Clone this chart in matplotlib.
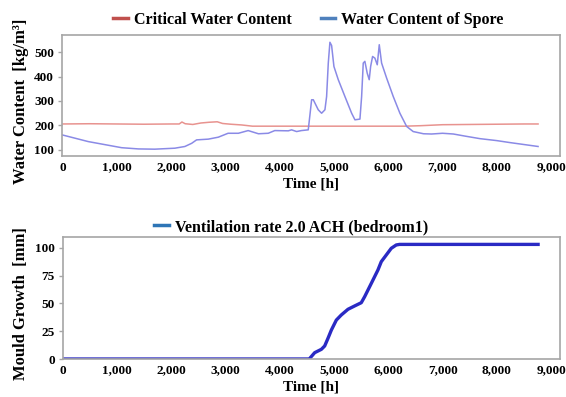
import matplotlib
matplotlib.use("Agg")
import matplotlib.pyplot as plt
from matplotlib.lines import Line2D

# ---------------- data ----------------
crit_hours = [0, 500, 1000, 1500, 2000, 2150, 2200, 2260, 2400, 2550, 2700, 2850, 2950,
              3100, 3300, 3500, 4000, 5000, 6000, 6300, 6600, 7000, 7500, 8000, 8500, 8760]
crit_values = [206, 207, 206, 205, 206, 206, 214, 207, 204, 210, 213, 215, 208,
               205, 202, 197, 197, 197, 197, 197, 199, 203, 204, 205, 206, 206]

spore_hours = [0, 475, 1090, 1400, 1700, 2070, 2255, 2380, 2470, 2685, 2870, 3050, 3240,
               3420, 3610, 3790, 3910, 4160, 4220, 4313, 4400, 4527, 4558, 4589, 4620,
               4711, 4773, 4834, 4865, 4896, 4926, 4957, 5000, 5080, 5203, 5326, 5387,
               5479, 5510, 5540, 5570, 5613, 5650, 5676, 5712, 5755, 5798, 5835, 5878,
               5970, 6093, 6215, 6339, 6460, 6650, 6800, 7000, 7200, 7400, 7690, 8000,
               8240, 8500, 8760]
spore_values = [161, 134, 109, 104, 103, 107, 114, 127, 141, 144, 152, 168, 168,
                179, 166, 168, 179, 178, 182, 175, 179, 182, 243, 305, 305,
                264, 250, 264, 318, 455, 540, 527, 441, 387, 318, 250, 223,
                226, 318, 455, 462, 414, 387, 441, 482, 475, 448, 530, 455,
                394, 318, 250, 196, 175, 166, 165, 168, 165, 157, 146, 138,
                130, 122, 114]

mould_hours = [0, 4540, 4641, 4764, 4825, 4886, 4948, 5040, 5132, 5255, 5378, 5500,
               5562, 5685, 5807, 5869, 5961, 6053, 6145, 6206, 8760]
mould_values = [0, 0, 5.7, 8.7, 11.7, 18.6, 26, 35, 39.6, 44.7, 47.7, 50.6,
                56, 68, 80, 87.5, 93.5, 99.5, 102.5, 103, 103]

x_ticks = [0, 1000, 2000, 3000, 4000, 5000, 6000, 7000, 8000, 9000]
x_ticklabels = ["0", "1,000", "2,000", "3,000", "4,000", "5,000", "6,000",
                "7,000", "8,000", "9,000"]
top_yticks = [100, 200, 300, 400, 500]
bot_yticks = [0, 25, 50, 75, 100]

# ---------------- style ----------------
plt.rcParams['font.family'] = ['Liberation Serif', 'DejaVu Serif']
plt.rcParams['font.weight'] = 'bold'
FRAME = '#a6a6a6'

fig = plt.figure(figsize=(5.66, 3.97), dpi=100)
ax1 = fig.add_axes([0.1104, 0.607, 0.8786, 0.305])
ax2 = fig.add_axes([0.1113, 0.0957, 0.8777, 0.3083])


def style(ax, yticks, ylim):
    ax.set_xlim(0, 9160)
    ax.set_ylim(*ylim)
    ax.set_xticks(x_ticks)
    ax.set_xticklabels(x_ticklabels)
    ax.set_yticks(yticks)
    for s in ax.spines.values():
        s.set_color(FRAME)
        s.set_linewidth(1.2)
    ax.tick_params(axis='x', length=0, pad=4, labelsize=9.5)
    ax.tick_params(axis='y', length=3, width=1, color=FRAME, direction='out',
                   pad=3, labelsize=9.5)
    for lab in ax.get_xticklabels() + ax.get_yticklabels():
        lab.set_fontweight('bold')


ax1.plot(crit_hours, crit_values, color='#e8938f', lw=1.1)
ax1.plot(spore_hours, spore_values, color='#8a8ae6', lw=1.1)
style(ax1, top_yticks, (75, 570))
ax1.set_xlabel('Time [h]', fontsize=11, fontweight='bold', labelpad=3)
ax1.set_ylabel('Water Content  [kg/m\u00b3]', fontsize=12, fontweight='bold',
               labelpad=0)
ax1.yaxis.set_label_coords(-0.067, 0.45)

ax2.plot(mould_hours, mould_values, color='#2a2ac4', lw=2.4)
style(ax2, bot_yticks, (0, 110))
ax2.set_xlabel('Time [h]', fontsize=11, fontweight='bold', labelpad=3)
ax2.set_ylabel('Mould Growth  [mm]', fontsize=12, fontweight='bold', labelpad=0)
ax2.yaxis.set_label_coords(-0.069, 0.45)

h1 = [Line2D([], [], color='#c0504d', lw=2.5),
      Line2D([], [], color='#4f81bd', lw=2.5)]
fig.legend(h1, ['Critical Water Content', 'Water Content of Spore'],
           loc='center', bbox_to_anchor=(0.545, 0.95), ncol=2, frameon=False,
           handlelength=0.9, handletextpad=0.4, columnspacing=1.8,
           prop={'family': 'Liberation Serif', 'weight': 'bold', 'size': 11.5})

h2 = [Line2D([], [], color='#2e75b6', lw=2.5)]
fig.legend(h2, ['Ventilation rate 2.0 ACH (bedroom1)'],
           loc='center', bbox_to_anchor=(0.515, 0.428), frameon=False,
           handlelength=0.9, handletextpad=0.4,
           prop={'family': 'Liberation Serif', 'weight': 'bold', 'size': 11.5})

fig.savefig('out.png', dpi=100)
